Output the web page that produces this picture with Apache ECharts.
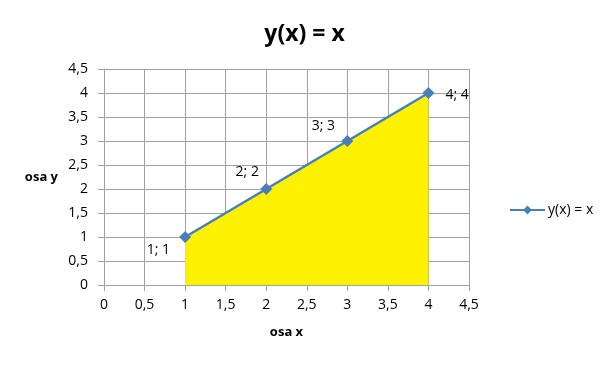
<!DOCTYPE html>
<html>
<head>
<meta charset="utf-8">
<script src="https://cdn.jsdelivr.net/npm/echarts@6/dist/echarts.min.js"></script>
<style>
html,body{margin:0;padding:0;background:#fff;}
#c{width:609px;height:365px;}
</style>
</head>
<body>
<div id="c"></div>
<script>
var titleText = 'y(x) = x';
var seriesName = 'y(x) = x';
var xValues = [1, 2, 3, 4];
var yValues = [1, 2, 3, 4];
var xAxisName = 'osa x';
var yAxisName = 'osa y';

var labelPlacement = [
  {position: 'left', offset: [-4, 13]},
  {position: 'top', offset: [-19, 1]},
  {position: 'top', offset: [-24, 3]},
  {position: 'right', offset: [6, 2]}
];

function fmt(v){ return String(v).replace('.', ','); }

var data = xValues.map(function(x, i){
  return {
    value: [x, yValues[i]],
    label: {
      show: true,
      position: labelPlacement[i].position,
      offset: labelPlacement[i].offset,
      formatter: fmt(x) + '; ' + fmt(yValues[i])
    }
  };
});

var font = '"Open Sans", "Liberation Sans", sans-serif';
var grid = '#a0a0a0';

var chart = echarts.init(document.getElementById('c'), null, {renderer: 'canvas'});
chart.setOption({
  animation: false,
  backgroundColor: '#ffffff',
  textStyle: {fontFamily: font},
  title: {
    text: titleText,
    left: 'center',
    top: 18,
    textStyle: {fontSize: 23, fontWeight: 'bold', color: '#000', fontFamily: font}
  },
  legend: {
    data: [seriesName],
    left: 504,
    top: 198,
    itemWidth: 35,
    itemHeight: 11,
    itemGap: 4,
    textStyle: {fontSize: 14, color: '#000', fontFamily: font, padding: [0, 0, 0, -2]}
  },
  grid: {left: 104, right: 140, top: 69, bottom: 80, containLabel: false},
  xAxis: {
    type: 'value',
    min: 0, max: 4.5, interval: 0.5,
    name: xAxisName,
    nameLocation: 'middle',
    nameGap: 41,
    nameTextStyle: {fontSize: 13, fontWeight: 'bold', color: '#000'},
    axisLine: {show: true, lineStyle: {color: grid, width: 1}},
    axisTick: {show: true, length: 6, lineStyle: {color: grid}},
    axisLabel: {fontSize: 14, color: '#000', margin: 13, formatter: fmt},
    splitLine: {show: true, lineStyle: {color: grid, width: 1}}
  },
  yAxis: {
    type: 'value',
    min: 0, max: 4.5, interval: 0.5,
    name: yAxisName,
    nameLocation: 'middle',
    nameRotate: 0,
    nameGap: 46,
    nameTextStyle: {fontSize: 13, fontWeight: 'bold', color: '#000'},
    axisLine: {show: true, lineStyle: {color: grid, width: 1}},
    axisTick: {show: true, length: 6, lineStyle: {color: grid}},
    axisLabel: {fontSize: 14, color: '#000', margin: 16, formatter: fmt},
    splitLine: {show: true, lineStyle: {color: grid, width: 1}}
  },
  series: [{
    name: seriesName,
    type: 'line',
    data: data,
    symbol: 'diamond',
    symbolSize: 12,
    lineStyle: {color: '#4a7ebb', width: 2.5},
    itemStyle: {color: '#4a7ebb'},
    areaStyle: {color: '#fff200', opacity: 1, origin: 'start'},
    label: {fontSize: 14, color: '#000', distance: 5},
    z: 3
  }]
});
</script>
</body>
</html>
